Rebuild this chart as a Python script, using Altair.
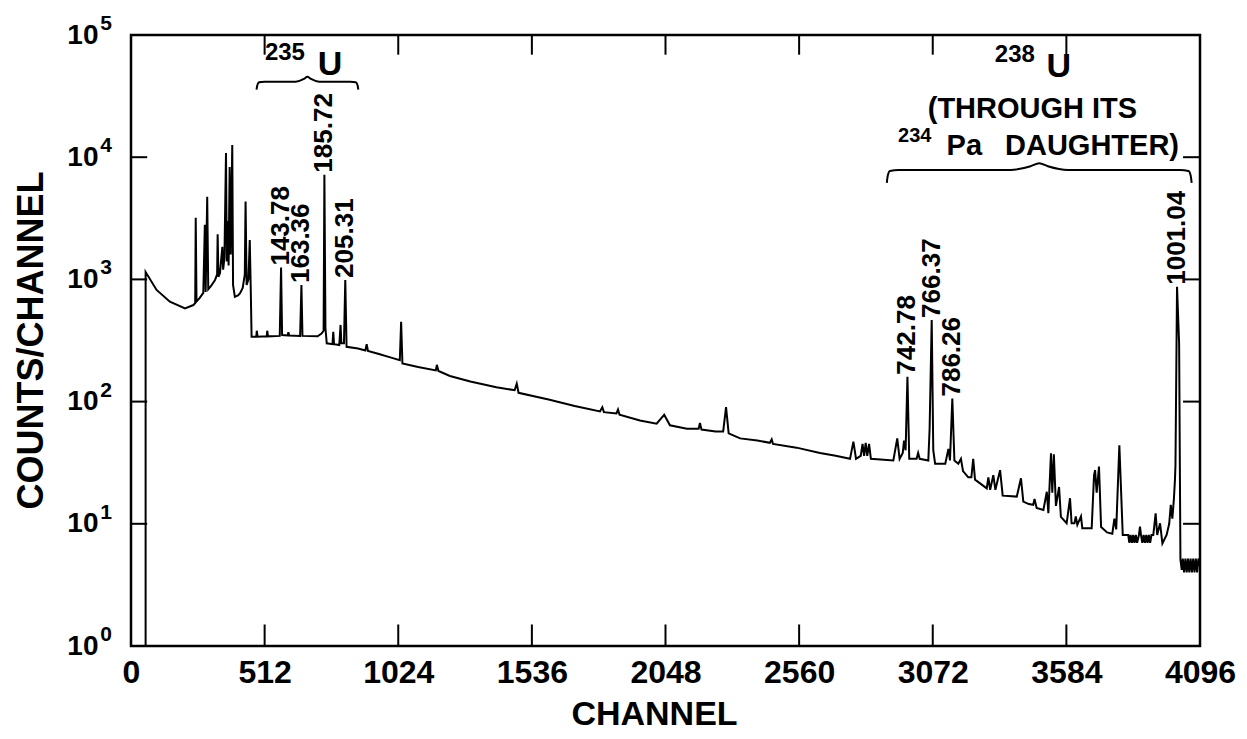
import altair as alt
import pandas as pd

# ---------------- data ----------------
# spectrum trace, split in three regions: [channel, counts/channel]
trace_low = [
    [56, 1], [56, 1150], [98, 820], [149, 657], [207, 580], [239, 617], [246, 640],
    [248, 3200], [251, 660], [262, 700], [277, 776], [283, 2800], [286, 790],
    [292, 4750], [296, 830], [306, 880], [322, 990], [330, 1100], [332, 2340],
    [335, 1050], [341, 1130], [350, 1850], [353, 1200], [358, 1500], [364, 10800],
    [367, 1400], [371, 3000], [374, 1300], [378, 8300], [382, 1600], [388, 12600],
    [391, 900], [398, 720], [410, 740], [418, 770], [428, 850], [436, 1100],
    [439, 4330], [443, 900], [450, 1000], [455, 2100], [459, 800], [462, 340],
    [480, 340], [482, 380], [485, 340], [520, 342], [522, 380], [525, 342],
    [570, 345], [575, 1250], [579, 350], [600, 348], [603, 370], [606, 348],
    [648, 345], [653, 900], [657, 345], [715, 342], [730, 360], [738, 380],
    [741, 7200], [745, 400], [750, 300], [772, 295], [775, 373], [778, 295],
    [798, 290], [803, 424], [806, 300], [816, 300], [821, 990], [826, 281],
    [870, 272], [898, 262], [903, 295], [908, 260], [950, 245], [1000, 228],
    [1030, 218], [1035, 451], [1040, 205],
]
trace_mid = [
    [1100, 192], [1168, 180], [1172, 200], [1178, 178], [1222, 162], [1300, 146],
    [1400, 131], [1470, 124], [1478, 140], [1485, 118], [1600, 104], [1700, 92],
    [1797, 83], [1806, 90], [1812, 82], [1860, 80], [1866, 86], [1872, 78],
    [1950, 70], [2014, 66], [2043, 78], [2065, 64], [2130, 60], [2175, 60],
    [2180, 67], [2186, 59], [2240, 57], [2269, 57], [2280, 90], [2290, 55],
    [2334, 50], [2400, 48], [2448, 46], [2455, 49], [2460, 45], [2550, 42],
    [2640, 38], [2700, 36], [2755, 34], [2768, 47], [2778, 34], [2796, 36],
    [2803, 45], [2809, 36], [2815, 46], [2821, 36], [2828, 45], [2835, 34],
]
trace_high = [
    [2921, 33], [2936, 50], [2945, 34], [2957, 38], [2962, 48], [2968, 40],
    [2975, 160], [2982, 34], [3010, 34], [3016, 38], [3022, 34], [3055, 33],
    [3060, 60], [3068, 466], [3074, 40], [3081, 31], [3120, 31], [3132, 41],
    [3138, 33], [3147, 106], [3155, 33], [3170, 31], [3180, 34], [3188, 27],
    [3208, 24], [3220, 24], [3227, 34], [3234, 23], [3279, 19.5], [3285, 24],
    [3292, 19], [3304, 25], [3312, 19], [3330, 27.5], [3340, 17], [3394, 16.7],
    [3410, 23.6], [3419, 15.2], [3440, 14.5], [3457, 14.3], [3462, 16], [3470, 13.5],
    [3496, 13], [3509, 18.3], [3515, 12.2], [3525, 37.8], [3530, 18], [3536, 37],
    [3544, 14], [3556, 20], [3563, 11.4], [3585, 10.1], [3598, 16.2], [3604, 10.1],
    [3615, 10.1], [3620, 11.5], [3626, 9.8], [3640, 11.5], [3645, 9.2], [3681, 9.2],
    [3690, 25], [3694, 27.5], [3700, 18], [3709, 29.4], [3717, 9.4], [3740, 8.5],
    [3760, 8.3], [3768, 11], [3775, 9], [3787, 44], [3800, 8.1], [3821, 8.1],
    [3825, 7], [3830, 8.1], [3835, 7], [3840, 8.1], [3845, 7], [3850, 8.1],
    [3855, 7], [3862, 8.1], [3866, 9.5], [3870, 8.1], [3875, 7], [3880, 8.1],
    [3885, 7], [3890, 8.1], [3895, 7], [3900, 8.1], [3905, 7], [3910, 8.1],
    [3917, 8.1], [3926, 12.2], [3932, 8.1], [3943, 10.1], [3952, 6.9], [3968, 8.1],
    [3978, 10], [3984, 14.3], [3990, 11], [3996, 16], [4000, 22.8], [4002, 30],
    [4008, 870], [4016, 300], [4021, 5.1], [4026, 4.2], [4030, 5.2], [4035, 4.0],
    [4040, 5.2], [4045, 4.0], [4050, 5.2], [4055, 4.0], [4060, 5.2], [4065, 4.0],
    [4070, 5.2], [4075, 4.0], [4080, 5.2], [4085, 4.0], [4090, 5.2], [4096, 4.5],
]

peak_labels = ["143.78", "163.36", "185.72", "205.31", "742.78", "766.37", "786.26", "1001.04"]
peak_channel = [575, 653, 741, 821, 2975, 3068, 3147, 4008]
peak_count = [1250, 900, 7200, 990, 160, 466, 106, 870]

x_ticks = [0, 512, 1024, 1536, 2048, 2560, 3072, 3584, 4096]
y_ticks = [1, 10, 100, 1000, 10000, 100000]
y_exponents = ["0", "1", "2", "3", "4", "5"]
x_inner_ticks = [512, 1024, 1536, 2048, 2560, 3072, 3584]
y_inner_ticks = [10, 100, 1000, 10000]

# isotope annotations (anchored in data coordinates)
iso_mass = ["235", "238"]
iso_mass_channel = [513, 3310]
iso_mass_count = [62400, 60100]
iso_symbol = ["U", "U"]
iso_symbol_channel = [716, 3508]
iso_symbol_count = [47100, 45300]
note_center_text = ["(THROUGH ITS"]
note_center_channel = [3454]
note_center_count = [20900]
note_left_text = ["DAUGHTER)", "Pa"]
note_left_channel = [3349, 3125]
note_left_count = [10400, 10400]
pa_mass = ["234"]
pa_mass_channel = [2939]
pa_mass_count = [13400]

# braces: [start channel, end channel, flat level counts]
brace_235 = [481, 871, 41500]
brace_238 = [2896, 4064, 7860]

FONT = "Liberation Sans"
WEIGHT = "bold"

# ---------------- build tables ----------------
trace = trace_low + trace_mid + trace_high
spec = pd.DataFrame(trace, columns=["channel", "counts"])
spec["i"] = range(len(spec))

peaks = pd.DataFrame({"t": peak_labels, "channel": peak_channel, "counts": peak_count})
expo = pd.DataFrame({"t": y_exponents, "counts": y_ticks})


def brace_points(name, start, end, level, drop, rise, hook, curl, tipw):
    c = (start + end) / 2.0
    xs_ = [start, start + hook * 0.3, start + hook, start + curl,
           c - tipw, c - tipw * 0.3, c, c + tipw * 0.3, c + tipw,
           end - curl, end - hook, end - hook * 0.3, end]
    ds = [-drop, -drop * 0.45, -drop * 0.08, 0,
          0, rise * 0.55, rise, rise * 0.55, 0,
          0, -drop * 0.08, -drop * 0.45, -drop]
    return [{"grp": name, "k": k, "channel": x, "counts": level * 10 ** d}
            for k, (x, d) in enumerate(zip(xs_, ds))]


braces = pd.DataFrame(
    brace_points("235U", *brace_235, drop=0.065, rise=0.04, hook=10, curl=30, tipw=45)
    + brace_points("238U", *brace_238, drop=0.105, rise=0.055, hook=12, curl=45, tipw=110)
)

xs = alt.Scale(domain=[0, 4096], nice=False, zero=False)
ys = alt.Scale(type="log", domain=[1, 100000], nice=False)

X = alt.X("channel:Q", scale=xs, title="CHANNEL",
          axis=alt.Axis(values=x_ticks, labelFlush=False, labelOverlap=False,
                        labelPadding=11, labelFontSize=32, format="d",
                        titleFontSize=34, titleX=523, titleY=78,
                        titleBaseline="alphabetic"))
Y = alt.Y("counts:Q", scale=ys, title="COUNTS/CHANNEL",
          axis=alt.Axis(values=y_ticks, labelPadding=33, labelFontSize=28,
                        labelExpr="'10'",
                        titleFontSize=36, titleX=-89, titleY=305,
                        titleBaseline="alphabetic"))

line = alt.Chart(spec).mark_line(color="black", strokeWidth=2, clip=True).encode(
    x=X, y=Y, order=alt.Order("i:Q"))


def txt(df, **kw):
    return alt.Chart(df).mark_text(font=FONT, fontWeight=WEIGHT, color="black", **kw).encode(
        x=alt.X("channel:Q", scale=xs), y=alt.Y("counts:Q", scale=ys), text="t:N")


plabels = txt(peaks, angle=270, align="left", baseline="middle", dx=2, fontSize=26)

# decade exponents next to the "10" axis labels
expo_layer = alt.Chart(expo).mark_text(
    font=FONT, fontWeight=WEIGHT, color="black", align="left", baseline="alphabetic",
    dy=-5, fontSize=21
).encode(x=alt.datum(-118, scale=xs), y=alt.Y("counts:Q", scale=ys), text="t:N")

brace_layer = alt.Chart(braces).mark_line(
    color="black", strokeWidth=2, interpolate="monotone"
).encode(x=alt.X("channel:Q", scale=xs), y=alt.Y("counts:Q", scale=ys),
         detail="grp:N", order=alt.Order("k:Q"))

mass = txt(pd.DataFrame({"t": iso_mass, "channel": iso_mass_channel, "counts": iso_mass_count}),
           align="left", baseline="alphabetic", fontSize=24)
symbol = txt(pd.DataFrame({"t": iso_symbol, "channel": iso_symbol_channel, "counts": iso_symbol_count}),
             align="left", baseline="alphabetic", fontSize=34)
notes_c = txt(pd.DataFrame({"t": note_center_text, "channel": note_center_channel, "counts": note_center_count}),
              align="center", baseline="alphabetic", fontSize=29)
notes_l = txt(pd.DataFrame({"t": note_left_text, "channel": note_left_channel, "counts": note_left_count}),
              align="left", baseline="alphabetic", fontSize=29)
pa = txt(pd.DataFrame({"t": pa_mass, "channel": pa_mass_channel, "counts": pa_mass_count}),
         align="left", baseline="alphabetic", fontSize=20)

# inward ticks on all four sides
xt = pd.DataFrame({"channel": x_inner_ticks})
yt = pd.DataFrame({"counts": y_inner_ticks})
tick_style = dict(color="black", strokeWidth=2)
bottom_ticks = alt.Chart(xt).mark_rule(**tick_style).encode(
    x=alt.X("channel:Q", scale=xs), y=alt.datum(1, scale=ys), y2=alt.datum(1.5))
top_ticks = alt.Chart(xt).mark_rule(**tick_style).encode(
    x=alt.X("channel:Q", scale=xs), y=alt.datum(100000, scale=ys), y2=alt.datum(69000))
left_ticks = alt.Chart(yt).mark_rule(**tick_style).encode(
    y=alt.Y("counts:Q", scale=ys), x=alt.datum(0, scale=xs), x2=alt.datum(62))
right_ticks = alt.Chart(yt).mark_rule(**tick_style).encode(
    y=alt.Y("counts:Q", scale=ys), x=alt.datum(4096, scale=xs), x2=alt.datum(4031))

chart = alt.layer(
    line, bottom_ticks, top_ticks, left_ticks, right_ticks,
    plabels, expo_layer, brace_layer, mass, symbol, notes_c, notes_l, pa
).properties(
    width=1069, height=611,
    autosize=alt.AutoSizeParams(type="none"),
    padding={"left": 123, "top": 27, "right": 39, "bottom": 85},
    background="white",
).configure_view(
    stroke="black", strokeWidth=2.5
).configure_axis(
    domain=False, ticks=False, grid=False,
    labelFont=FONT, titleFont=FONT, labelColor="black", titleColor="black",
    labelFontWeight=WEIGHT, titleFontWeight=WEIGHT
)

chart.save("out.html", embed_options={"renderer": "svg", "actions": False})
